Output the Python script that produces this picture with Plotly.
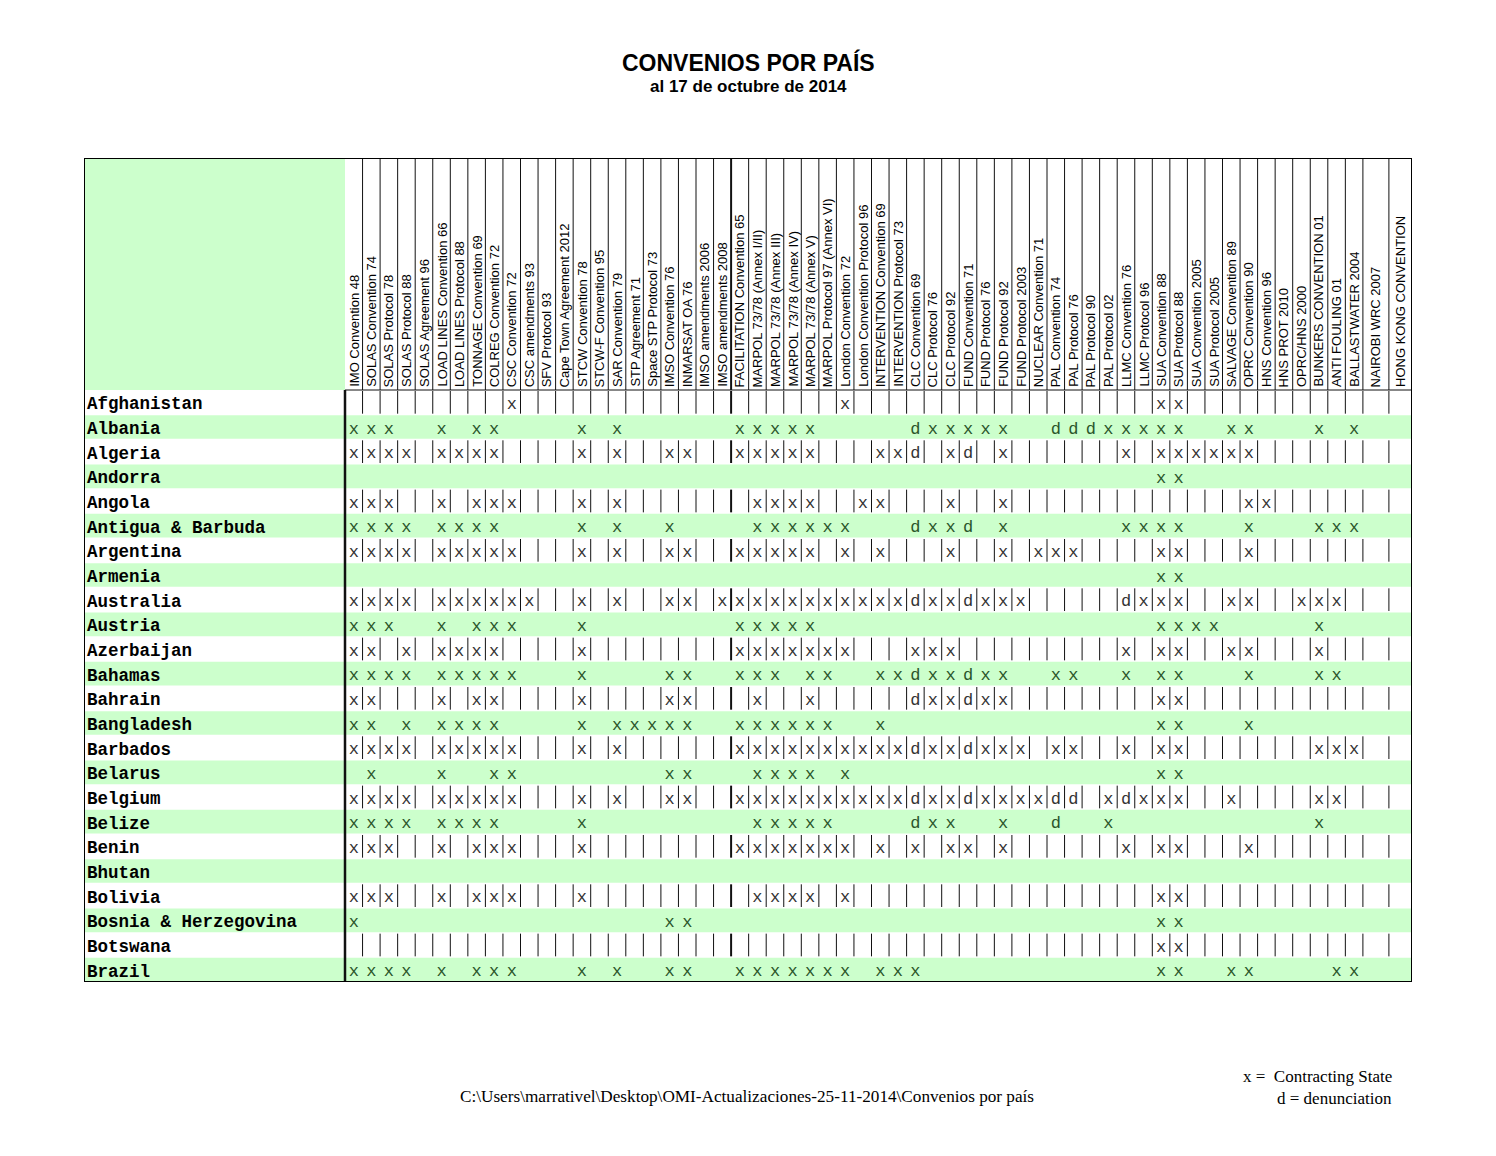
import plotly.graph_objects as go

countries = ["Afghanistan", "Albania", "Algeria", "Andorra", "Angola",
             "Antigua & Barbuda", "Argentina", "Armenia", "Australia",
             "Austria", "Azerbaijan", "Bahamas", "Bahrain", "Bangladesh",
             "Barbados", "Belarus", "Belgium", "Belize", "Benin", "Bhutan",
             "Bolivia", "Bosnia & Herzegovina", "Botswana", "Brazil"]

conventions = [
    "IMO Convention 48", "SOLAS Convention 74", "SOLAS Protocol 78",
    "SOLAS Protocol 88", "SOLAS Agreement 96", "LOAD LINES Convention 66",
    "LOAD LINES Protocol 88", "TONNAGE Convention 69", "COLREG Convention 72",
    "CSC Convention 72", "CSC amendments 93", "SFV Protocol 93",
    "Cape Town Agreement 2012", "STCW Convention 78", "STCW-F Convention 95",
    "SAR Convention 79", "STP Agreement 71", "Space STP Protocol 73",
    "IMSO Convention 76", "INMARSAT OA 76", "IMSO amendments 2006",
    "IMSO amendments 2008", "FACILITATION Convention 65",
    "MARPOL 73/78 (Annex I/II)", "MARPOL 73/78 (Annex III)",
    "MARPOL 73/78 (Annex IV)", "MARPOL 73/78 (Annex V)",
    "MARPOL Protocol 97 (Annex VI)", "London Convention 72",
    "London Convention Protocol 96", "INTERVENTION Convention 69",
    "INTERVENTION Protocol 73", "CLC Convention 69", "CLC Protocol 76",
    "CLC Protocol 92", "FUND Convention 71", "FUND Protocol 76",
    "FUND Protocol 92", "FUND Protocol 2003", "NUCLEAR Convention 71",
    "PAL Convention 74", "PAL Protocol 76", "PAL Protocol 90",
    "PAL Protocol 02", "LLMC Convention 76", "LLMC Protocol 96",
    "SUA Convention 88", "SUA Protocol 88", "SUA Convention 2005",
    "SUA Protocol 2005", "SALVAGE Convention 89", "OPRC Convention 90",
    "HNS Convention 96", "HNS PROT 2010", "OPRC/HNS 2000",
    "BUNKERS CONVENTION 01", "ANTI FOULING 01", "BALLASTWATER 2004",
    "NAIROBI WRC 2007", "HONG KONG CONVENTION"]

# column numbers (into conventions) marked "x" = contracting state
contracting = {
    "Afghanistan": [9, 28, 46, 47],
    "Albania": [0, 1, 2, 5, 7, 8, 13, 15, 22, 23, 24, 25, 26, 33, 34, 35, 36,
                37, 43, 44, 45, 46, 47, 50, 51, 55, 57],
    "Algeria": [0, 1, 2, 3, 5, 6, 7, 8, 13, 15, 18, 19, 22, 23, 24, 25, 26,
                30, 31, 34, 37, 44, 46, 47, 48, 49, 50, 51],
    "Andorra": [46, 47],
    "Angola": [0, 1, 2, 5, 7, 8, 9, 13, 15, 23, 24, 25, 26, 29, 30, 34, 37,
               51, 52],
    "Antigua & Barbuda": [0, 1, 2, 3, 5, 6, 7, 8, 13, 15, 18, 23, 24, 25, 26,
                          27, 28, 33, 34, 37, 44, 45, 46, 47, 51, 55, 56, 57],
    "Argentina": [0, 1, 2, 3, 5, 6, 7, 8, 9, 13, 15, 18, 19, 22, 23, 24, 25,
                  26, 28, 30, 34, 37, 39, 40, 41, 46, 47, 51],
    "Armenia": [46, 47],
    "Australia": [0, 1, 2, 3, 5, 6, 7, 8, 9, 10, 13, 15, 18, 19, 21, 22, 23,
                  24, 25, 26, 27, 28, 29, 30, 31, 33, 34, 36, 37, 38, 45, 46,
                  47, 50, 51, 54, 55, 56],
    "Austria": [0, 1, 2, 5, 7, 8, 9, 13, 22, 23, 24, 25, 26, 46, 47, 48, 49,
                55],
    "Azerbaijan": [0, 1, 3, 5, 6, 7, 8, 13, 22, 23, 24, 25, 26, 27, 28, 32,
                   33, 34, 44, 46, 47, 50, 51, 55],
    "Bahamas": [0, 1, 2, 3, 5, 6, 7, 8, 9, 13, 18, 19, 22, 23, 24, 26, 27, 30,
                31, 33, 34, 36, 37, 40, 41, 44, 46, 47, 51, 55, 56],
    "Bahrain": [0, 1, 5, 7, 8, 13, 18, 19, 23, 26, 33, 34, 36, 37, 46, 47],
    "Bangladesh": [0, 1, 3, 5, 6, 7, 8, 13, 15, 16, 17, 18, 19, 22, 23, 24,
                   25, 26, 27, 30, 46, 47, 51],
    "Barbados": [0, 1, 2, 3, 5, 6, 7, 8, 9, 13, 15, 22, 23, 24, 25, 26, 27,
                 28, 29, 30, 31, 33, 34, 36, 37, 38, 40, 41, 44, 46, 47, 55,
                 56, 57],
    "Belarus": [1, 5, 8, 9, 18, 19, 23, 24, 25, 26, 28, 46, 47],
    "Belgium": [0, 1, 2, 3, 5, 6, 7, 8, 9, 13, 15, 18, 19, 22, 23, 24, 25, 26,
                27, 28, 29, 30, 31, 33, 34, 36, 37, 38, 39, 43, 45, 46, 47,
                50, 55, 56],
    "Belize": [0, 1, 2, 3, 5, 6, 7, 8, 13, 23, 24, 25, 26, 27, 33, 34, 37,
               43, 55],
    "Benin": [0, 1, 2, 5, 7, 8, 9, 13, 22, 23, 24, 25, 26, 27, 28, 30, 32, 34,
              35, 37, 44, 46, 47, 51],
    "Bhutan": [],
    "Bolivia": [0, 1, 2, 5, 7, 8, 9, 13, 23, 24, 25, 26, 28, 46, 47],
    "Bosnia & Herzegovina": [0, 18, 19, 46, 47],
    "Botswana": [46, 47],
    "Brazil": [0, 1, 2, 3, 5, 7, 8, 9, 13, 15, 18, 19, 22, 23, 24, 25, 26, 27,
               28, 30, 31, 32, 46, 47, 50, 51, 56, 57],
}

# column numbers marked "d" = denunciation
denounced = {
    "Albania": [32, 40, 41, 42],
    "Algeria": [32, 35],
    "Antigua & Barbuda": [32, 35],
    "Australia": [32, 35, 44],
    "Bahamas": [32, 35],
    "Bahrain": [32, 35],
    "Barbados": [32, 35],
    "Belgium": [32, 35, 40, 41, 44],
    "Belize": [32, 40],
}

title = "CONVENIOS POR PAÍS"
subtitle = "al 17 de octubre de 2014"
footer = "C:\\Users\\marrativel\\Desktop\\OMI-Actualizaciones-25-11-2014\\Convenios por país"
legend_lines = ["x =  Contracting State", "d = denunciation"]

# ---- geometry (page pixels of the sheet) ----
FIG_W, FIG_H, OFF = 1480, 1140, 8
TBL_L, TBL_R, TBL_T, HDR_B, TBL_B = 84, 1412, 158, 390, 982
NAME_W = 261
col_w = [17.55] * 58 + [26.0, 23.1]
GREEN = "#ccffcc"
TEXT_DY = 0.1   # text sits a touch below the row middle

n_rows = len(countries)
row_h = (TBL_B - HDR_B) / n_rows
hdr_top = -0.5 - (HDR_B - TBL_T) / row_h   # header top in row units


def px(x):
    return (x - OFF) / FIG_W


def py(y):
    return 1 - (y - OFF) / FIG_H


edges = [NAME_W]
for w in col_w:
    edges.append(edges[-1] + w)
centers = [(edges[i] + edges[i + 1]) / 2 for i in range(len(col_w))]
total_w = edges[-1]

fig = go.Figure()

shapes = [dict(type="rect", xref="x", yref="y", x0=0, x1=NAME_W,
               y0=hdr_top, y1=-0.5, fillcolor=GREEN, line_width=0, layer="below")]
for i in range(n_rows):
    if i % 2 == 1:
        shapes.append(dict(type="rect", xref="x", yref="y", x0=0, x1=total_w,
                           y0=i - 0.48, y1=i + 0.48, fillcolor=GREEN,
                           line_width=0, layer="below"))

# thin grid: header column separators + separators in white rows
gx, gy = [], []
for k in range(1, len(col_w)):
    if k == 22:
        continue
    gx += [edges[k], edges[k], None]
    gy += [hdr_top, -0.5, None]
    for i in range(0, n_rows, 2):
        gx += [edges[k], edges[k], None]
        gy += [i - 0.46, i + 0.46, None]
gx += [NAME_W, total_w, None]
gy += [-0.5, -0.5, None]
fig.add_trace(go.Scatter(x=gx, y=gy, mode="lines", hoverinfo="skip",
                         line=dict(color="#111111", width=1)))

# heavier separator before FACILITATION
tx, ty = [edges[22], edges[22], None], [hdr_top, -0.5, None]
for i in range(0, n_rows, 2):
    tx += [edges[22], edges[22], None]
    ty += [i - 0.46, i + 0.46, None]
fig.add_trace(go.Scatter(x=tx, y=ty, mode="lines", hoverinfo="skip",
                         line=dict(color="#111111", width=2)))

# heavy line left of the data columns
fig.add_trace(go.Scatter(x=[NAME_W, NAME_W], y=[-0.5, n_rows - 0.5],
                         mode="lines", hoverinfo="skip",
                         line=dict(color="#111111", width=2.5)))

# marks
mx, my, mt, mc = [], [], [], []
for i, c in enumerate(countries):
    col_color = "#2a552a" if i % 2 == 1 else "#333333"
    for k in contracting.get(c, []):
        mx.append(centers[k]); my.append(i + TEXT_DY); mt.append("x"); mc.append(col_color)
    for k in denounced.get(c, []):
        mx.append(centers[k]); my.append(i + TEXT_DY); mt.append("d"); mc.append(col_color)
fig.add_trace(go.Scatter(x=mx, y=my, text=mt, mode="text", hoverinfo="skip",
                         textposition="middle center",
                         textfont=dict(family="Liberation Mono", size=17,
                                       color=mc)))

# country names
fig.add_trace(go.Scatter(x=[3] * n_rows, y=[i + TEXT_DY for i in range(n_rows)],
                         text=countries, mode="text", hoverinfo="skip",
                         textposition="middle right",
                         textfont=dict(family="Liberation Mono", size=17.5,
                                       color="black", weight="bold")))

shapes.append(dict(type="rect", xref="x", yref="y", x0=0, x1=total_w,
                   y0=hdr_top, y1=n_rows - 0.5, line=dict(color="black", width=2),
                   layer="above"))

annotations = []
for k, name in enumerate(conventions):
    annotations.append(dict(x=centers[k], y=-0.58, xref="x", yref="y",
                            text=name, textangle=-90, showarrow=False,
                            xanchor="center", yanchor="bottom", borderpad=0,
                            font=dict(family="Liberation Sans", size=13,
                                      color="black")))

annotations += [
    dict(x=px(748), y=py(62), xref="paper", yref="paper", text=title,
         showarrow=False, xanchor="center", yanchor="middle",
         font=dict(family="Liberation Sans", size=23, color="black",
                   weight="bold")),
    dict(x=px(748), y=py(87), xref="paper", yref="paper", text=subtitle,
         showarrow=False, xanchor="center", yanchor="middle",
         font=dict(family="Liberation Sans", size=17, color="black",
                   weight="bold")),
    dict(x=px(747), y=py(1096), xref="paper", yref="paper", text=footer,
         showarrow=False, xanchor="center", yanchor="middle",
         font=dict(family="Liberation Serif", size=17.2, color="black")),
]
for j, line in enumerate(legend_lines):
    annotations.append(dict(x=px(1394), y=py(1076 + 22 * j), xref="paper",
                            yref="paper", text=line, showarrow=False,
                            xanchor="right", yanchor="middle",
                            font=dict(family="Liberation Serif", size=17,
                                      color="black")))

fig.update_layout(
    width=FIG_W, height=FIG_H,
    margin=dict(l=0, r=0, t=0, b=0),
    paper_bgcolor="white", plot_bgcolor="white",
    showlegend=False,
    xaxis=dict(domain=[px(TBL_L), px(TBL_R)], range=[0, total_w],
               visible=False, fixedrange=True),
    yaxis=dict(domain=[py(TBL_B), py(TBL_T)], range=[n_rows - 0.5, hdr_top],
               visible=False, fixedrange=True),
    shapes=shapes,
    annotations=annotations,
)

fig.write_html("out.html", config={"displayModeBar": False})
